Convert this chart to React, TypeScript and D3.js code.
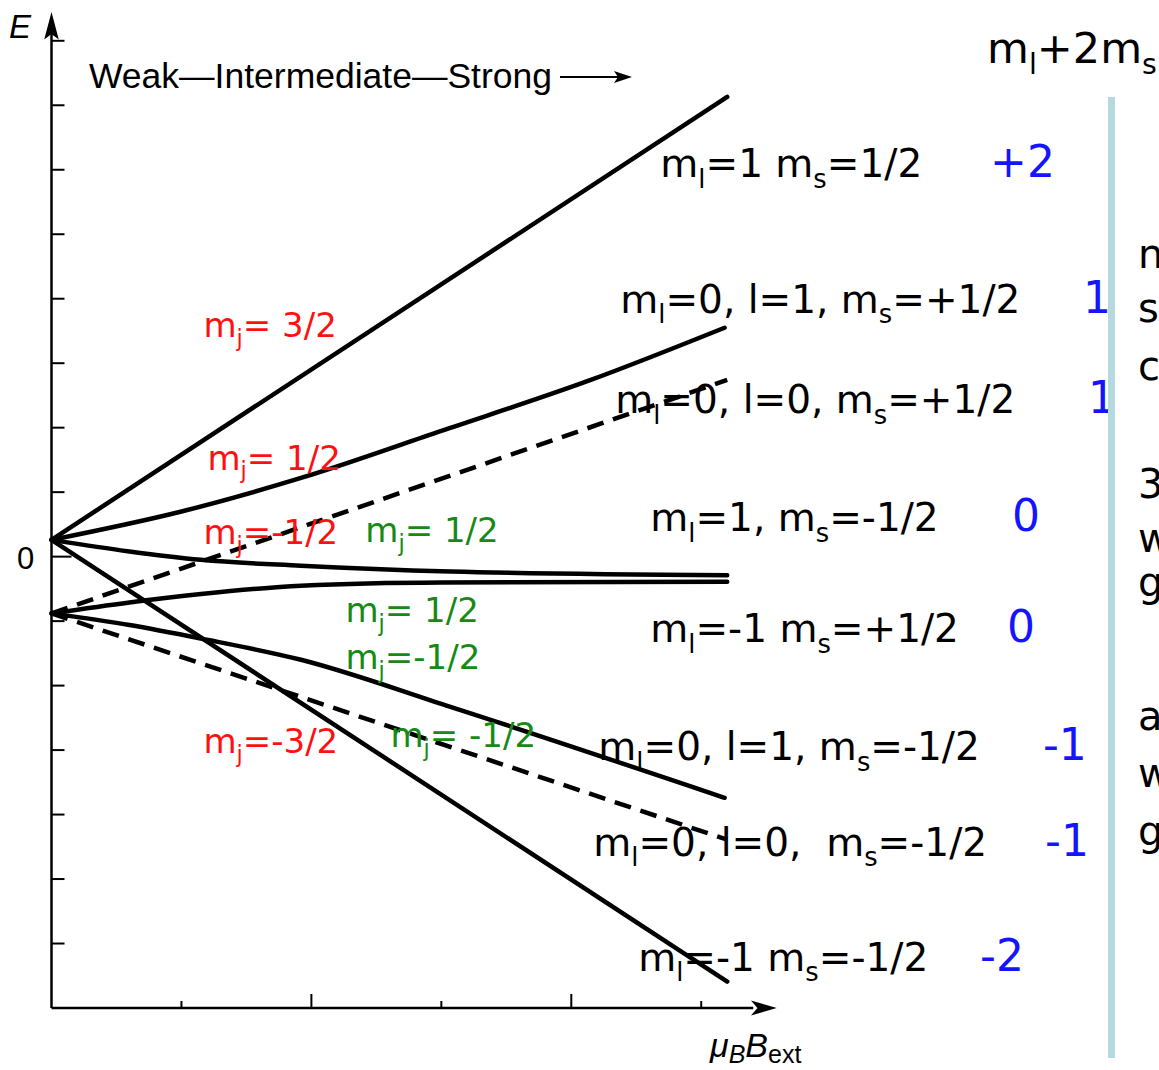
import React from "react";
import * as d3 from "d3";

const W = 1159;
const H = 1070;

// ---- data (field in tick units, energy in tick units) ----
const yTicks = [-6, -5, -4, -3, -2, -1, 0, 1, 2, 3, 4, 5, 6, 7, 8];
const xTicks = [1, 2, 3, 4, 5];
const xMajorTicks = [2, 4];

const lineMj32: [number, number][] = [[0, 0.26], [5.2, 7.13]];
const lineMj12Up: [number, number][] = [[0, 0.26], [1.0, 0.7], [1.92, 1.22], [3.0, 1.95], [4.15, 2.74], [5.18, 3.55]];
const lineMjm12Up: [number, number][] = [[0, 0.26], [0.6, 0.08], [1.15, -0.05], [1.92, -0.14], [3.07, -0.23], [5.2, -0.29]];
const lineMjm32: [number, number][] = [[0, 0.26], [5.2, -6.59]];
const dashMj12: [number, number][] = [[0, -0.88], [5.2, 2.74]];
const lineMj12Low: [number, number][] = [[0, -0.88], [0.6, -0.71], [1.15, -0.58], [1.92, -0.45], [3.0, -0.4], [5.2, -0.39]];
const lineMjm12Low: [number, number][] = [[0, -0.88], [0.6, -1.06], [1.15, -1.27], [1.92, -1.6], [3.07, -2.33], [5.18, -3.74]];
const dashMjm12: [number, number][] = [[0, -0.88], [5.2, -4.39]];

const solidLines = [lineMj32, lineMj12Up, lineMjm12Up, lineMjm32, lineMj12Low, lineMjm12Low];
const dashedLines = [dashMj12, dashMjm12];

// strong-field state labels: text, field, energy
const stateLabels: [string, number, number][] = [
  ["m_l=1 m_s=1/2", 4.685, 5.88],
  ["m_l=0, l=1, m_s=+1/2", 4.377, 3.78],
  ["m_l=0, l=0, m_s=+1/2", 4.338, 2.22],
  ["m_l=1, m_s=-1/2", 4.608, 0.39],
  ["m_l=-1 m_s=+1/2", 4.608, -1.33],
  ["m_l=0, l=1, m_s=-1/2", 4.208, -3.16],
  ["m_l=0, l=0,  m_s=-1/2", 4.169, -4.64],
  ["m_l=-1 m_s=-1/2", 4.515, -6.42],
];
const sumLabels: [string, number, number][] = [
  ["+2", 7.223, 5.89],
  ["1", 7.938, 3.78],
  ["1", 7.977, 2.22],
  ["0", 7.392, 0.39],
  ["0", 7.354, -1.33],
  ["-1", 7.63, -3.16],
  ["-1", 7.646, -4.64],
  ["-2", 7.146, -6.42],
];
const redLabels: [string, number, number][] = [
  ["m_j= 3/2", 1.169, 3.41],
  ["m_j= 1/2", 1.2, 1.35],
  ["m_j=-1/2", 1.169, 0.19],
  ["m_j=-3/2", 1.169, -3.05],
];
const greenLabels: [string, number, number][] = [
  ["m_j= 1/2", 2.415, 0.23],
  ["m_j= 1/2", 2.262, -1.01],
  ["m_j=-1/2", 2.262, -1.74],
  ["m_j= -1/2", 2.608, -2.95],
];
const sideLetters: [string, number][] = [
  ["n", 268], ["s", 322], ["c", 380], ["3", 498], ["w", 552], ["g", 596], ["a", 730], ["w", 787], ["g", 845],
];

const FONT = "'Comic Sans MS', 'DejaVu Sans', sans-serif";
const HELV = "'Liberation Sans', Arial, sans-serif";

function SubText({ text, x, y, size, fill }: { text: string; x: number; y: number; size: number; fill: string }) {
  const parts: React.ReactNode[] = [];
  const re = /_(\w)/g;
  let last = 0;
  let m: RegExpExecArray | null;
  let k = 0;
  let shifted = false;
  const sub = size * 0.66;
  const dyv = size * 0.26;
  while ((m = re.exec(text)) !== null) {
    if (m.index > last) {
      parts.push(<tspan key={k++} dy={shifted ? -dyv : 0}>{text.slice(last, m.index)}</tspan>);
      shifted = false;
    }
    parts.push(<tspan key={k++} dy={dyv} fontSize={sub}>{m[1]}</tspan>);
    shifted = true;
    last = m.index + m[0].length;
  }
  if (last < text.length) {
    parts.push(<tspan key={k++} dy={shifted ? -dyv : 0}>{text.slice(last)}</tspan>);
  }
  return (
    <text x={x} y={y} fontSize={size} fill={fill} fontFamily={FONT} style={{ whiteSpace: "pre" }}>
      {parts}
    </text>
  );
}

export default function App() {
  const x = d3.scaleLinear().domain([0, 5.56]).range([51.5, 774]);
  const y = d3.scaleLinear().domain([-7, 8.4]).range([1008, 15]);
  const line = d3.line<[number, number]>().x((d) => x(d[0])).y((d) => y(d[1])).curve(d3.curveMonotoneX);

  const x0 = x(0);
  const yBase = y(-7);

  return (
    <div style={{ position: "absolute", left: 0, top: 0 }}>
      <svg width={W} height={H} style={{ display: "block", background: "#fff" }}>
        {/* axes */}
        <line x1={x0} y1={yBase} x2={x0} y2={y(8.15)} stroke="#000" strokeWidth={2.5} />
        <path d={`M${x0},${y(8.4)} L${x0 - 6},${y(8.05)} L${x0},${y(8.12)} L${x0 + 6},${y(8.05)} Z`} fill="#000" stroke="#000" strokeWidth={1.5} />
        <line x1={x0} y1={yBase} x2={x(5.4)} y2={yBase} stroke="#000" strokeWidth={2.5} />
        <path d={`M${x(5.56)},${yBase} L${x(5.4)},${yBase - 6} L${x(5.44)},${yBase} L${x(5.4)},${yBase + 6} Z`} fill="#000" stroke="#000" strokeWidth={1.5} />
        {yTicks.map((t) => (
          <line key={t} x1={x0} x2={x0 + (t === 0 ? 20 : 13)} y1={y(t)} y2={y(t)} stroke="#000" strokeWidth={2} />
        ))}
        {xTicks.map((t) => (
          <line key={t} x1={x(t)} x2={x(t)} y1={yBase} y2={yBase - (xMajorTicks.includes(t) ? 14 : 7)} stroke="#000" strokeWidth={2} />
        ))}
        <text x={9} y={38} fontFamily={HELV} fontStyle="italic" fontSize={33}>E</text>
        <text x={17} y={569} fontFamily={HELV} fontSize={31}>0</text>
        <text x={710} y={1057} fontFamily={HELV} fontStyle="italic" fontSize={34}>
          μ<tspan dy={6} fontSize={25}>B</tspan><tspan dy={-6}>B</tspan><tspan dy={6} fontSize={25} fontStyle="normal">ext</tspan>
        </text>

        {/* regime caption */}
        <text x={89} y={88} fontFamily={HELV} fontSize={35.5}>Weak—Intermediate—Strong</text>
        <line x1={560} x2={622} y1={77} y2={77} stroke="#000" strokeWidth={2} />
        <path d="M632,77 L614,71 L618,77 L614,83 Z" fill="#000" />

        {/* curves */}
        {solidLines.map((d, i) => (
          <path key={"s" + i} d={line(d) || ""} fill="none" stroke="#000" strokeWidth={4.5} strokeLinecap="round" />
        ))}
        {dashedLines.map((d, i) => (
          <path key={"d" + i} d={line(d) || ""} fill="none" stroke="#000" strokeWidth={4.5} strokeDasharray="17 10" />
        ))}

        {/* annotations */}
        {redLabels.map(([t, u, e], i) => (
          <SubText key={"r" + i} text={t} x={x(u)} y={y(e)} size={34} fill="#ff1010" />
        ))}
        {greenLabels.map(([t, u, e], i) => (
          <SubText key={"g" + i} text={t} x={x(u)} y={y(e)} size={34} fill="#158a15" />
        ))}
        {stateLabels.map(([t, u, e], i) => (
          <SubText key={"b" + i} text={t} x={x(u)} y={y(e)} size={39} fill="#000" />
        ))}
        {sumLabels.map(([t, u, e], i) => (
          <text key={"n" + i} x={x(u)} y={y(e)} fontSize={44} fill="#1414ff" fontFamily={FONT}>{t}</text>
        ))}
        <SubText text="m_l+2m_s" x={987} y={63} size={43} fill="#000" />

        {/* right-side panel */}
        <rect x={1108} y={97} width={7} height={961} fill="#b5d9df" />
        {sideLetters.map(([c, yy], i) => (
          <text key={"c" + i} x={1138} y={yy} fontSize={40} fontFamily={FONT} fill="#000">{c}</text>
        ))}
      </svg>
    </div>
  );
}
